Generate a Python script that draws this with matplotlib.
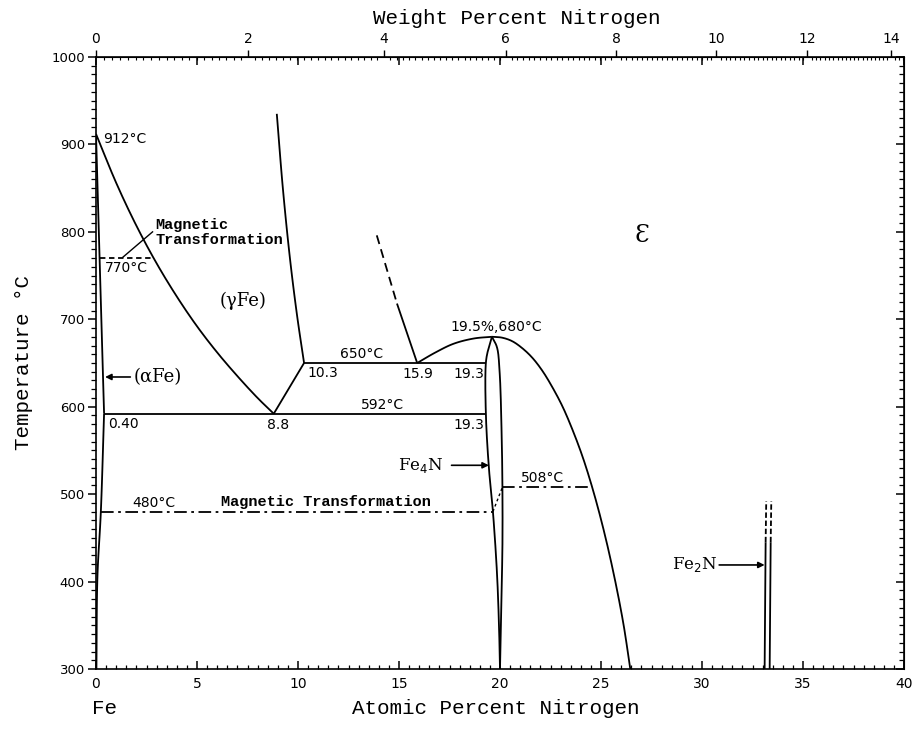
import numpy as np
import matplotlib
matplotlib.use("Agg")
import matplotlib.pyplot as plt
from matplotlib.ticker import MultipleLocator, FixedLocator

# ---- Fe-N phase boundaries (atomic % N, temperature in °C) ----
alpha_gamma_x = [0.0, 0.40]
alpha_gamma_T = [912, 592]

alpha_solvus_x = [0.40, 0.24, 0.07, 0.02]
alpha_solvus_T = [592, 480, 405, 300]

gamma_left_x = [0.0, 1.0, 2.0, 3.0, 4.0, 5.0, 6.0, 7.0, 8.0, 8.8]
gamma_left_T = [912, 856, 807, 764, 726, 692, 662, 635, 610, 592]

gamma_right_x = [8.8, 10.3]
gamma_right_T = [592, 650]

gamma_eps_x = [8.95, 9.25, 9.6, 9.95, 10.3]
gamma_eps_T = [935, 850, 770, 705, 650]

eps_dashed_x = [13.9, 14.9]
eps_dashed_T = [796, 718]
eps_solid_x = [14.9, 15.9]
eps_solid_T = [718, 650]

eps_left_x = [15.9, 16.8, 17.7, 18.7, 19.6]
eps_left_T = [650, 662, 672, 678, 680]

dome_x = [19.6, 20.1, 20.6, 21.1, 21.6, 22.1, 22.6, 23.1, 23.6, 24.1,
          24.6, 25.1, 25.6, 26.1, 26.45]
dome_T = [680, 679, 675, 667, 656, 641, 622, 600, 573, 542,
          505, 462, 412, 353, 300]

fe4n_left_x = [19.6, 19.4, 19.3, 19.3, 19.45, 19.65, 19.85, 19.95, 20.0]
fe4n_left_T = [680, 664, 650, 592, 530, 480, 410, 350, 300]
fe4n_right_x = [19.6, 19.85, 19.98, 20.08, 20.12, 20.12, 20.06, 20.0]
fe4n_right_T = [680, 668, 640, 570, 508, 440, 370, 300]

fe2n_left_x = [33.1, 33.15]
fe2n_right_x = [33.35, 33.4]
fe2n_solid_T = [300, 445]
fe2n_dash_T = [445, 492]

# invariant / transformation lines: (x_start, x_end, T)
eutectoid_650 = (10.3, 19.3, 650)
eutectoid_592 = (0.40, 19.3, 592)
magnetic_770 = (0.22, 2.86, 770)
magnetic_480 = (0.24, 19.65, 480)
magnetic_508 = (20.12, 24.57, 508)
link_x = [19.65, 20.12]
link_T = [480, 508]

bottom_ticks = [0, 5, 10, 15, 20, 25, 30, 35, 40]
left_ticks = [300, 400, 500, 600, 700, 800, 900, 1000]
wt_ticks = [0, 2, 4, 6, 8, 10, 12, 14]

M_N, M_FE = 14.007, 55.845


def at2wt(a):
    a = np.asarray(a, dtype=float)
    with np.errstate(divide="ignore", invalid="ignore"):
        return 100.0 * a * M_N / (a * M_N + (100.0 - a) * M_FE)


def wt2at(w):
    w = np.asarray(w, dtype=float)
    with np.errstate(divide="ignore", invalid="ignore"):
        n = w / M_N
        f = (100.0 - w) / M_FE
        return 100.0 * n / (n + f)


def smooth(xs, ts, n=24):
    """Centripetal Catmull-Rom curve through the given boundary points."""
    sx, st = 20.3, 0.874  # roughly pixels per unit, keeps the curve isotropic
    P = np.column_stack([np.asarray(xs, float) * sx, np.asarray(ts, float) * st])
    if len(P) < 3:
        return np.asarray(xs), np.asarray(ts)
    P = np.vstack([2 * P[0] - P[1], P, 2 * P[-1] - P[-2]])
    out = []
    for i in range(1, len(P) - 2):
        p0, p1, p2, p3 = P[i - 1], P[i], P[i + 1], P[i + 2]
        t0 = 0.0
        t1 = t0 + max(np.linalg.norm(p1 - p0), 1e-6) ** 0.5
        t2 = t1 + max(np.linalg.norm(p2 - p1), 1e-6) ** 0.5
        t3 = t2 + max(np.linalg.norm(p3 - p2), 1e-6) ** 0.5
        t = np.linspace(t1, t2, n)[:, None]
        a1 = (t1 - t) / (t1 - t0) * p0 + (t - t0) / (t1 - t0) * p1
        a2 = (t2 - t) / (t2 - t1) * p1 + (t - t1) / (t2 - t1) * p2
        a3 = (t3 - t) / (t3 - t2) * p2 + (t - t2) / (t3 - t2) * p3
        b1 = (t2 - t) / (t2 - t0) * a1 + (t - t0) / (t2 - t0) * a2
        b2 = (t3 - t) / (t3 - t1) * a2 + (t - t1) / (t3 - t1) * a3
        c = (t2 - t) / (t2 - t1) * b1 + (t - t1) / (t2 - t1) * b2
        out.append(c if i == 1 else c[1:])
    C = np.vstack(out)
    return C[:, 0] / sx, C[:, 1] / st


W, H = 915, 734
fig = plt.figure(figsize=(W / 100, H / 100), dpi=100)
L, R, T, B = 96, 904, 57, 669
ax = fig.add_axes([L / W, 1 - B / H, (R - L) / W, (B - T) / H])
ax.set_xlim(0, 40)
ax.set_ylim(300, 1000)

LW = 1.3
k = dict(color="black", lw=LW, solid_capstyle="butt")


def curve(xs, ts, **kw):
    cx, ct = smooth(xs, ts)
    ax.plot(cx, ct, **kw)


ax.plot(alpha_gamma_x, alpha_gamma_T, **k)
curve(alpha_solvus_x, alpha_solvus_T, **k)
curve(gamma_left_x, gamma_left_T, **k)
ax.plot(gamma_right_x, gamma_right_T, **k)
curve(gamma_eps_x, gamma_eps_T, **k)
ax.plot(eps_dashed_x, eps_dashed_T, color="black", lw=LW, ls=(0, (5, 3)))
ax.plot(eps_solid_x, eps_solid_T, **k)
curve(eps_left_x, eps_left_T, **k)
curve(dome_x, dome_T, **k)
curve(fe4n_left_x, fe4n_left_T, **k)
curve(fe4n_right_x, fe4n_right_T, **k)
for xs in (fe2n_left_x, fe2n_right_x):
    ax.plot(xs, fe2n_solid_T, **k)
    ax.plot([xs[1], xs[1] + 0.03], fe2n_dash_T, color="black", lw=LW,
            ls=(0, (3, 1.5)))

for x0, x1, t in (eutectoid_650, eutectoid_592):
    ax.plot([x0, x1], [t, t], **k)
ax.plot([magnetic_770[0], magnetic_770[1]], [magnetic_770[2]] * 2,
        color="black", lw=LW, ls=(0, (3, 2)))
dashdot = (0, (7, 2.5, 1.5, 2.5))
ax.plot([magnetic_480[0], magnetic_480[1]], [magnetic_480[2]] * 2,
        color="black", lw=LW, ls=dashdot)
ax.plot([magnetic_508[0], magnetic_508[1]], [magnetic_508[2]] * 2,
        color="black", lw=LW, ls=dashdot)
ax.plot(link_x, link_T, color="black", lw=1.0, ls=(0, (2, 2)))

# ---- annotations ----
num = dict(fontsize=10, family="DejaVu Sans", color="black")
mono_b = dict(fontsize=11, family="Liberation Mono", weight="bold", color="black")

ax.text(0.35, 906, "912°C", ha="left", va="center", **num)
ax.text(0.45, 767, "770°C", ha="left", va="top", **num)
ax.text(2.95, 799, "Magnetic\nTransformation", ha="left", va="center",
        linespacing=1.05, **mono_b)
ax.plot([1.33, 2.8], [771, 800], color="black", lw=1.0)
ax.text(7.3, 721, "(γFe)", ha="center", va="center", fontsize=13,
        family="DejaVu Serif")
ax.text(1.85, 634, "(αFe)", ha="left", va="center", fontsize=13,
        family="DejaVu Serif")
arrow = dict(arrowstyle="-|>", color="black", lw=1.2, mutation_scale=9,
             shrinkA=0, shrinkB=0)
ax.annotate("", xy=(0.45, 634), xytext=(1.7, 634), arrowprops=arrow)

ax.text(13.15, 652, "650°C", ha="center", va="bottom", **num)
ax.text(10.45, 646, "10.3", ha="left", va="top", **num)
ax.text(15.15, 645, "15.9", ha="left", va="top", **num)
ax.text(19.2, 645, "19.3", ha="right", va="top", **num)
ax.text(19.8, 683, "19.5%,680°C", ha="center", va="bottom", **num)
ax.text(14.2, 594, "592°C", ha="center", va="bottom", **num)
ax.text(0.6, 588, "0.40", ha="left", va="top", **num)
ax.text(9.0, 587, "8.8", ha="center", va="top", **num)
ax.text(19.2, 587, "19.3", ha="right", va="top", **num)

ax.text(17.2, 533, "Fe$_4$N", ha="right", va="center", fontsize=12,
        family="DejaVu Serif")
ax.annotate("", xy=(19.45, 533), xytext=(17.6, 533), arrowprops=arrow)
ax.text(22.1, 511, "508°C", ha="center", va="bottom", **num)
ax.text(1.8, 482, "480°C", ha="left", va="bottom", **num)
ax.text(6.2, 483, "Magnetic Transformation", ha="left", va="bottom", **mono_b)

ax.text(30.75, 419, "Fe$_2$N", ha="right", va="center", fontsize=12,
        family="DejaVu Serif")
ax.annotate("", xy=(33.1, 419), xytext=(30.85, 419), arrowprops=arrow)
ax.text(27.0, 796, "Ɛ", ha="center", va="center", fontsize=17,
        family="DejaVu Serif")

# ---- axes, ticks ----
for s in ax.spines.values():
    s.set_linewidth(1.2)

ax.xaxis.set_major_locator(FixedLocator(bottom_ticks))
ax.xaxis.set_minor_locator(MultipleLocator(0.5))
ax.yaxis.set_major_locator(FixedLocator(left_ticks))
ax.yaxis.set_minor_locator(MultipleLocator(10))
ax.tick_params(axis="x", which="both", direction="in", top=True, bottom=True,
               labeltop=False, labelsize=10, pad=6)
ax.tick_params(axis="x", which="major", length=6, width=1.1)
ax.tick_params(axis="x", which="minor", length=3, width=0.9, top=False)
ax.tick_params(axis="y", which="both", direction="out", left=True,
               right=False, labelsize=9.5, pad=2)
ax.tick_params(axis="y", which="major", length=6, width=1.1)
ax.tick_params(axis="y", which="minor", length=3.5, width=0.9)

# inward ticks along the right edge
axr = ax.secondary_yaxis("right")
axr.yaxis.set_major_locator(FixedLocator(left_ticks))
axr.yaxis.set_minor_locator(MultipleLocator(10))
axr.tick_params(which="both", direction="in", labelright=False)
axr.tick_params(which="major", length=6, width=1.1)
axr.tick_params(which="minor", length=3.5, width=0.9)

# weight-percent scale on top
axt = ax.secondary_xaxis("top", functions=(at2wt, wt2at))
axt.xaxis.set_major_locator(FixedLocator(wt_ticks))
axt.xaxis.set_minor_locator(MultipleLocator(0.1))
axt.tick_params(which="major", direction="out", length=5, width=1.0,
                labelsize=10, pad=3)
axt.tick_params(which="minor", direction="in", length=2.5, width=0.8)

title_font = dict(family="Liberation Mono", fontsize=15, color="black")
fig.text(517 / W, 1 - 18 / H, "Weight Percent Nitrogen", ha="center",
         va="center", **title_font)
fig.text(496 / W, 1 - 709 / H, "Atomic Percent Nitrogen", ha="center",
         va="center", **title_font)
fig.text(104 / W, 1 - 709 / H, "Fe", ha="center", va="center", **title_font)
fig.text(24 / W, 1 - 362 / H, "Temperature °C", ha="center", va="center",
         rotation=90, **title_font)

fig.savefig("out.png", dpi=100)
